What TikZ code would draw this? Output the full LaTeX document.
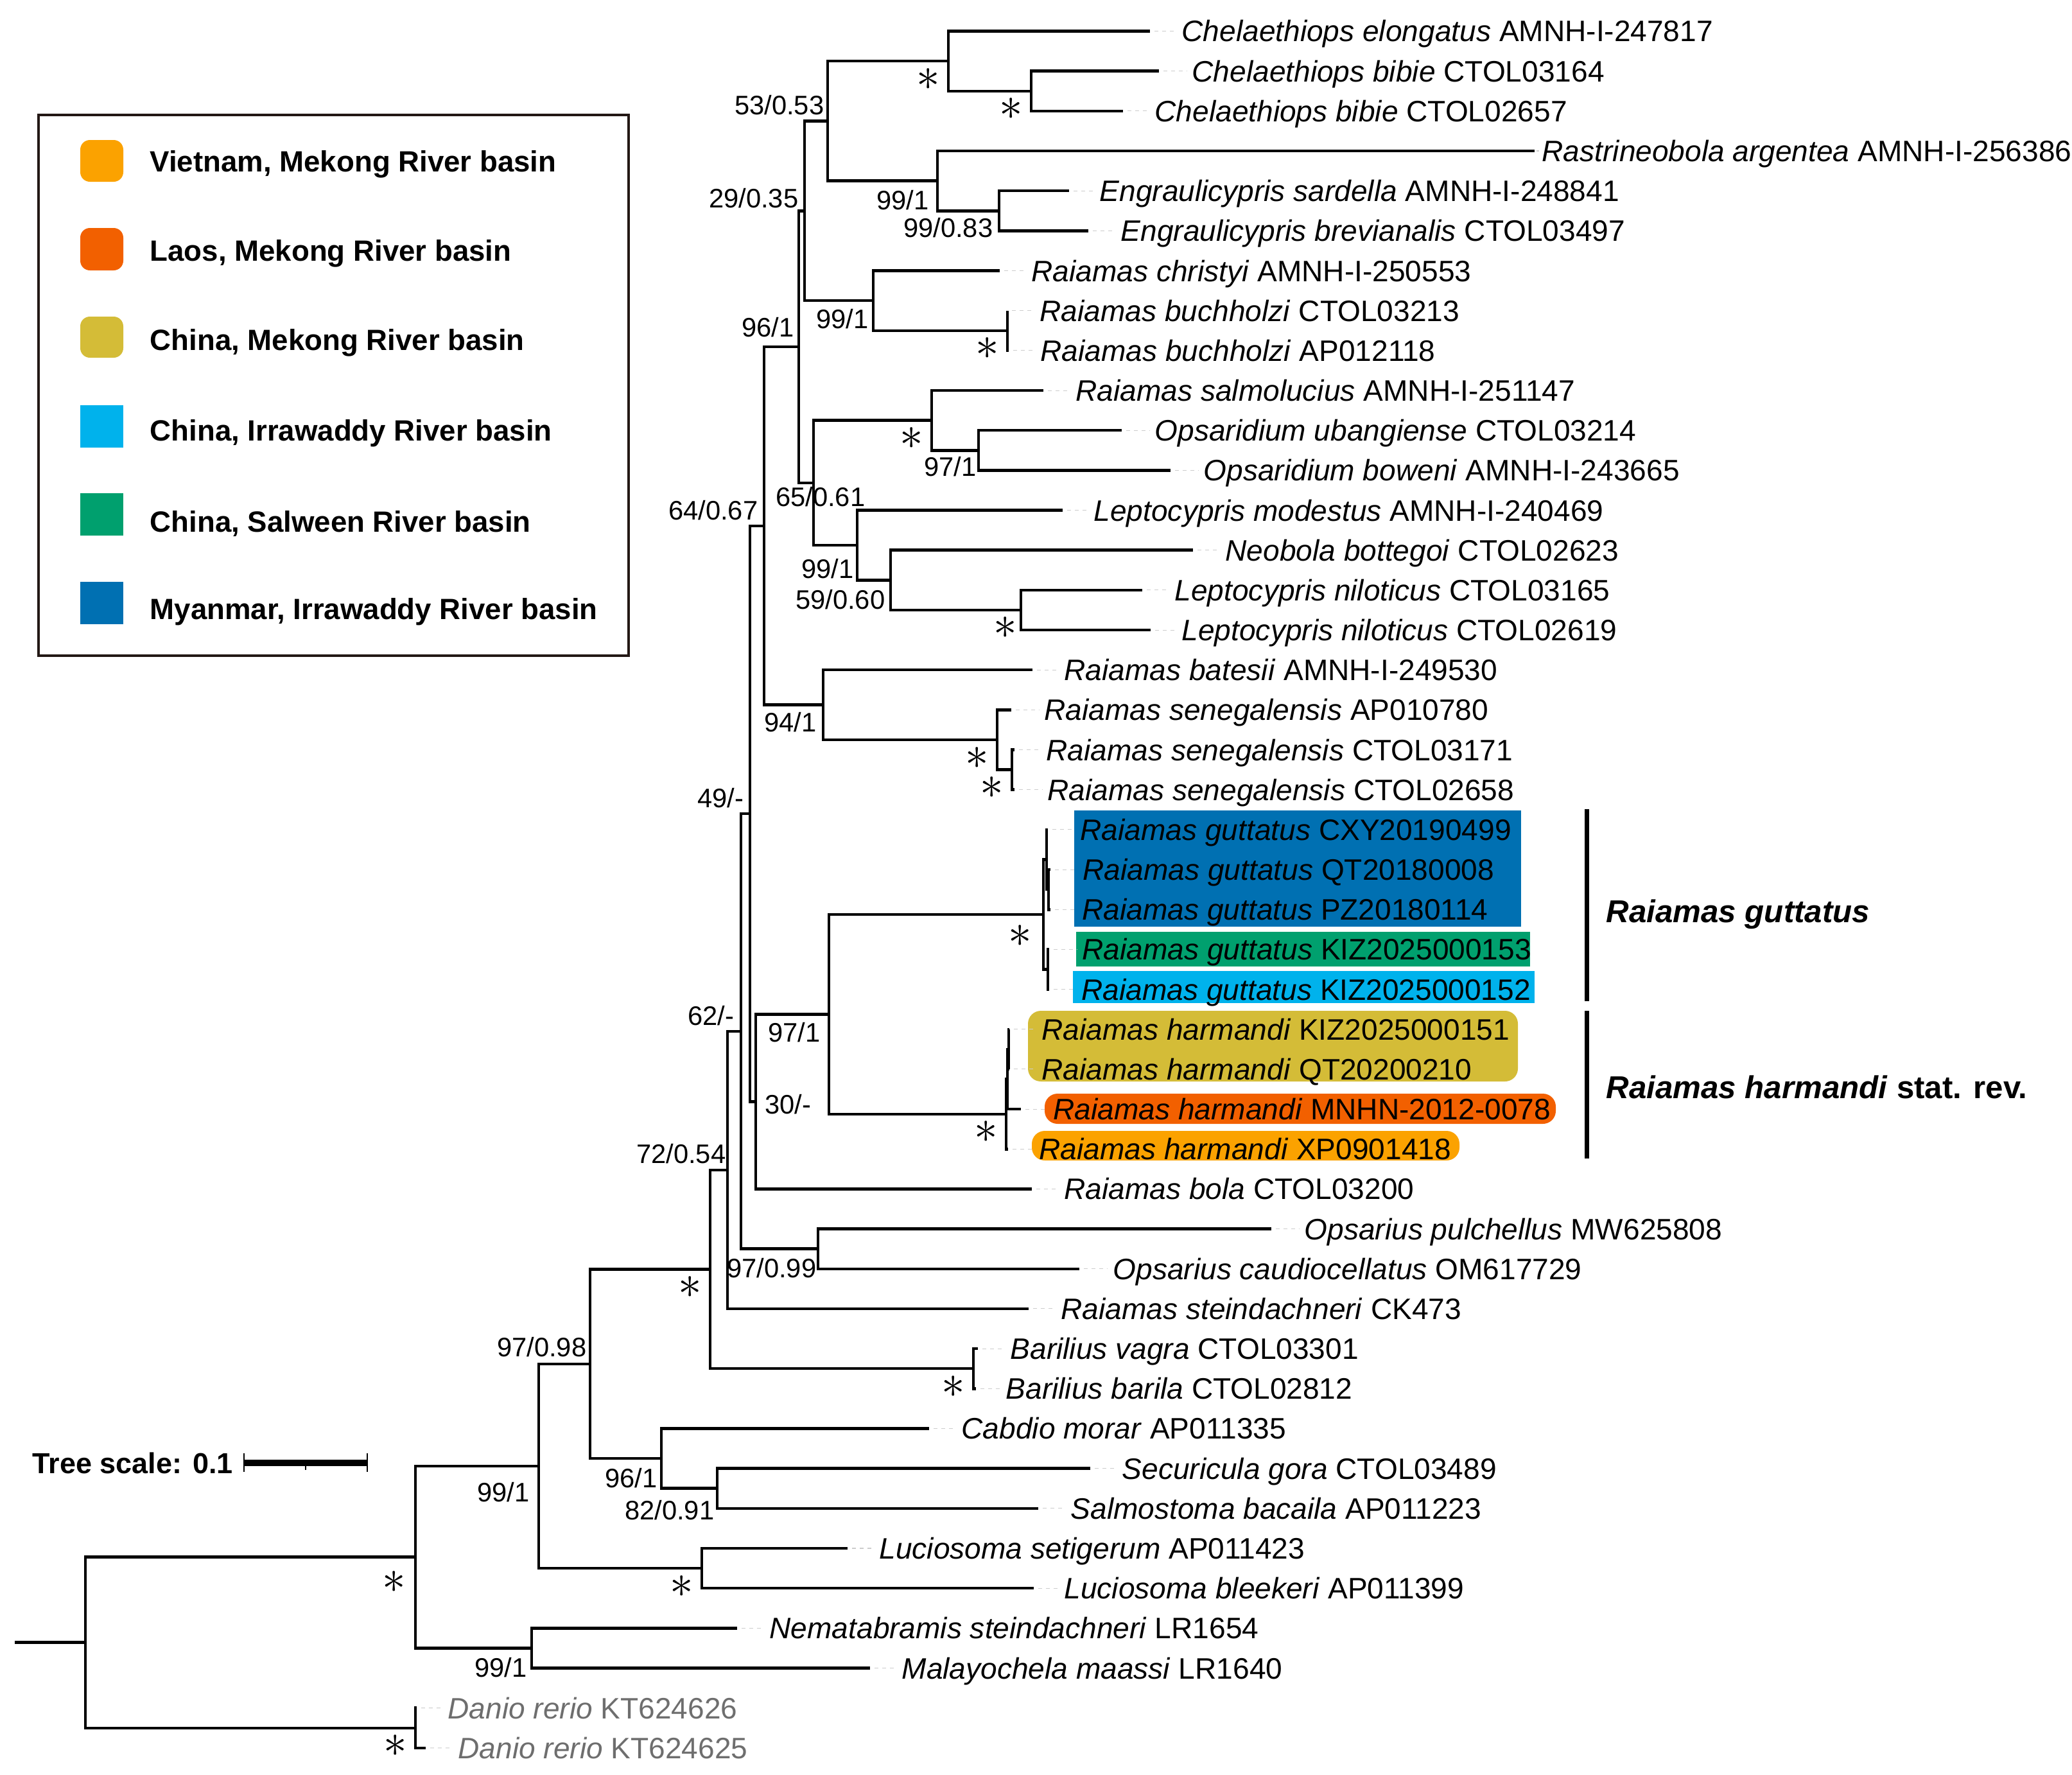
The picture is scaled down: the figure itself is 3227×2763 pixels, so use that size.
\documentclass[tikz,border=0pt]{standalone}
\usepackage{fontspec}
\setmainfont{Liberation Sans}
\usetikzlibrary{calc}
\definecolor{vietnam}{RGB}{251,162,0}
\definecolor{laos}{RGB}{242,96,0}
\definecolor{chmekong}{RGB}{212,188,55}
\definecolor{chirra}{RGB}{0,178,236}
\definecolor{chsalween}{RGB}{0,160,110}
\definecolor{myirra}{RGB}{0,112,178}
\definecolor{legframe}{RGB}{35,24,21}
\definecolor{outgrp}{RGB}{110,110,110}
\newcommand{\taxon}[2]{\textit{#1} #2}
\tikzset{
  branch/.style={every edge/.style={draw, line width=1.28pt, to path={|- (\tikztotarget) \tikztonodes}}},
  leader/.style={draw=gray!40, line width=0.3pt, dash pattern=on 1.7pt off 1.7pt},
  tiplab/.style={anchor=west, inner sep=0pt, text height=9.38pt, text depth=0pt, font=\fontsize{13.1pt}{15pt}\selectfont},
  suplab/.style={anchor=east, inner sep=0pt, text height=8.49pt, text depth=0pt, font=\fontsize{11.86pt}{13pt}\selectfont},
  astk/.style={inner sep=0pt, shift={(-31,28)}, font=\fontsize{20.5pt}{22pt}\selectfont},
  legtxt/.style={anchor=west, inner sep=0pt, text height=9.29pt, text depth=0pt, font=\fontsize{12.97pt}{15pt}\bfseries\selectfont},
  cladelab/.style={anchor=west, inner sep=0pt, text height=10pt, text depth=0pt, font=\fontsize{14pt}{16pt}\bfseries\selectfont},
  scalelab/.style={anchor=west, inner sep=0pt, text height=9.16pt, text depth=0pt, font=\fontsize{12.8pt}{15pt}\bfseries\selectfont}
}
\begin{document}
\begin{tikzpicture}[x=0.01cm, y=-0.01cm]
\useasboundingbox (0,0) rectangle (3227,2763);

\draw[legframe, line width=1pt] (60,179) rectangle (979,1021);
\fill[vietnam, rounded corners=0.15cm] (125,218) rectangle (192,283);
\fill[laos, rounded corners=0.15cm] (125,355) rectangle (192,421);
\fill[chmekong, rounded corners=0.15cm] (125,493) rectangle (192,557);
\fill[chirra] (125,631) rectangle (192,697);
\fill[chsalween] (125,768) rectangle (192,834);
\fill[myirra] (125,906) rectangle (192,972);
\node[legtxt] (leg1) at (233,251) {Vietnam, Mekong River basin};
\node[legtxt] (leg2) at (233,390) {Laos, Mekong River basin};
\node[legtxt] (leg3) at (233,529) {China, Mekong River basin};
\node[legtxt] (leg4) at (233,670) {China, Irrawaddy River basin};
\node[legtxt] (leg5) at (233,812) {China, Salween River basin};
\node[legtxt] (leg6) at (233,948) {Myanmar, Irrawaddy River basin};

\fill[myirra] (1673,1262) rectangle (2369,1443);
\fill[chsalween] (1676,1451) rectangle (2383,1505);
\fill[chirra] (1671,1512) rectangle (2390,1562);
\fill[chmekong, rounded corners=0.2cm] (1601,1574) rectangle (2364,1684);
\fill[laos, rounded corners=0.2cm] (1627,1703) rectangle (2423,1750);
\fill[vietnam, rounded corners=0.2cm] (1607,1761) rectangle (2273,1807);

\foreach \x [count=\i] in {1791,1805,1749,2390,1665,1695,1557,1569,1571,1625,1747,1823,1655,1858,1779,1792,1608,1575,1580,1580,1632,1636,1636,1634,1634,1572,1572,1590,1570,1607,1980,1681,1602,1523,1520,1447,1698,1617,1320,1610,1148,1355,649,663}
  \coordinate (t\i) at (\x,{48.5+62.17*(\i-1)});

\coordinate (nChel2) at (1606,141.76);
\coordinate (nChel) at (1477,95.13);
\coordinate (nEngr2) at (1556,328.27);
\coordinate (nEngr) at (1460,281.64);
\coordinate (n53) at (1289,188.39);
\coordinate (nBuch) at (1569,514.78);
\coordinate (nChr) at (1360,468.15);
\coordinate (n29) at (1253,328.27);
\coordinate (nOpsd) at (1524,701.29);
\coordinate (nSalm) at (1451,654.66);
\coordinate (nNilo) at (1590,949.97);
\coordinate (n59) at (1387,903.34);
\coordinate (n99L) at (1335,848.94);
\coordinate (n65) at (1267,751.80);
\coordinate (n96) at (1244,540.04);
\coordinate (nSen3) at (1576,1198.65);
\coordinate (nSen) at (1553,1152.02);
\coordinate (n94) at (1282,1097.62);
\coordinate (n64) at (1190,818.83);
\coordinate (nGutM2) at (1633,1385.16);
\coordinate (nGutM) at (1630,1338.53);
\coordinate (nGutC) at (1632,1509.50);
\coordinate (nGut) at (1625,1424.02);
\coordinate (nHar3) at (1571,1633.84);
\coordinate (nHar2) at (1569,1680.47);
\coordinate (nHar) at (1567,1734.87);
\coordinate (n97) at (1291,1579.45);
\coordinate (n30) at (1177,1715.44);
\coordinate (n49) at (1168,1267.14);
\coordinate (nOps) at (1274,1944.69);
\coordinate (n62) at (1154,1605.92);
\coordinate (n72) at (1133,1821.93);
\coordinate (nBar) at (1516,2131.20);
\coordinate (nG) at (1106,1976.57);
\coordinate (n82) at (1117,2317.71);
\coordinate (n96b) at (1030,2271.08);
\coordinate (n9798) at (919,2123.83);
\coordinate (nLuc) at (1093,2442.05);
\coordinate (n99a) at (839,2282.94);
\coordinate (nNem) at (828,2566.39);
\coordinate (nJ) at (647,2424.67);
\coordinate (nDan) at (647,2690.73);
\coordinate (root) at (133,2557.70);
\coordinate (base) at (23,2557.70);

\path[branch]
  (base) edge (root)
  (root) edge (nJ) edge (nDan)
  (nDan) edge (t43) edge (t44)
  (nJ) edge (n99a) edge (nNem)
  (nNem) edge (t41) edge (t42)
  (n99a) edge (n9798) edge (nLuc)
  (nLuc) edge (t39) edge (t40)
  (n9798) edge (nG) edge (n96b)
  (n96b) edge (t36) edge (n82)
  (n82) edge (t37) edge (t38)
  (nG) edge (n72) edge (nBar)
  (nBar) edge (t34) edge (t35)
  (n72) edge (n62) edge (t33)
  (n62) edge (n49) edge (nOps)
  (nOps) edge (t31) edge (t32)
  (n49) edge (n64) edge (n30)
  (n30) edge (n97) edge (t30)
  (n97) edge (nGut) edge (nHar)
  (nHar) edge (nHar2) edge (t29)
  (nHar2) edge (nHar3) edge (t28)
  (nHar3) edge (t26) edge (t27)
  (nGut) edge (nGutM) edge (nGutC)
  (nGutM) edge (t21) edge (nGutM2)
  (nGutM2) edge (t22) edge (t23)
  (nGutC) edge (t24) edge (t25)
  (n64) edge (n96) edge (n94)
  (n94) edge (t17) edge (nSen)
  (nSen) edge (t18) edge (nSen3)
  (nSen3) edge (t19) edge (t20)
  (n96) edge (n29) edge (n65)
  (n65) edge (nSalm) edge (n99L)
  (n99L) edge (t13) edge (n59)
  (n59) edge (t14) edge (nNilo)
  (nNilo) edge (t15) edge (t16)
  (nSalm) edge (t10) edge (nOpsd)
  (nOpsd) edge (t11) edge (t12)
  (n29) edge (n53) edge (nChr)
  (nChr) edge (t7) edge (nBuch)
  (nBuch) edge (t8) edge (t9)
  (n53) edge (nChel) edge (nEngr)
  (nChel) edge (t1) edge (nChel2)
  (nChel2) edge (t2) edge (t3)
  (nEngr) edge (t4) edge (nEngr2)
  (nEngr2) edge (t5) edge (t6);

\foreach \i/\lx/\g/\a in {
  1/1840/Chelaethiops elongatus/AMNH-I-247817,
  2/1856/Chelaethiops bibie/CTOL03164,
  3/1798/Chelaethiops bibie/CTOL02657,
  4/2401/Rastrineobola argentea/AMNH-I-256386,
  5/1712/Engraulicypris sardella/AMNH-I-248841,
  6/1745/Engraulicypris brevianalis/CTOL03497,
  7/1606/Raiamas christyi/AMNH-I-250553,
  8/1619/Raiamas buchholzi/CTOL03213,
  9/1620/Raiamas buchholzi/AP012118,
  10/1675/Raiamas salmolucius/AMNH-I-251147,
  11/1798/Opsaridium ubangiense/CTOL03214,
  12/1874/Opsaridium boweni/AMNH-I-243665,
  13/1703/Leptocypris modestus/AMNH-I-240469,
  14/1908/Neobola bottegoi/CTOL02623,
  15/1829/Leptocypris niloticus/CTOL03165,
  16/1840/Leptocypris niloticus/CTOL02619,
  17/1657/Raiamas batesii/AMNH-I-249530,
  18/1626/Raiamas senegalensis/AP010780,
  19/1629/Raiamas senegalensis/CTOL03171,
  20/1631/Raiamas senegalensis/CTOL02658,
  21/1682/Raiamas guttatus/CXY20190499,
  22/1686/Raiamas guttatus/QT20180008,
  23/1685/Raiamas guttatus/PZ20180114,
  24/1685/Raiamas guttatus/KIZ2025000153,
  25/1684/Raiamas guttatus/KIZ2025000152,
  26/1622/Raiamas harmandi/KIZ2025000151,
  27/1622/Raiamas harmandi/QT20200210,
  28/1640/Raiamas harmandi/MNHN-2012-0078,
  29/1618/Raiamas harmandi/XP0901418,
  30/1657/Raiamas bola/CTOL03200,
  31/2031/Opsarius pulchellus/MW625808,
  32/1733/Opsarius caudiocellatus/OM617729,
  33/1652/Raiamas steindachneri/CK473,
  34/1573/Barilius vagra/CTOL03301,
  35/1566/Barilius barila/CTOL02812,
  36/1497/Cabdio morar/AP011335,
  37/1747/Securicula gora/CTOL03489,
  38/1667/Salmostoma bacaila/AP011223,
  39/1369/Luciosoma setigerum/AP011423,
  40/1657/Luciosoma bleekeri/AP011399,
  41/1198/Nematabramis steindachneri/LR1654,
  42/1404/Malayochela maassi/LR1640}
  \node[tiplab] (l\i) at (\lx,{48.5+62.17*(\i-1)}) {\taxon{\g}{\a}};
\node[tiplab, text=outgrp] (l43) at (697,2659.64) {\taxon{Danio rerio}{KT624626}};
\node[tiplab, text=outgrp] (l44) at (713,2721.81) {\taxon{Danio rerio}{KT624625}};

\foreach \i in {1,...,44}
  \draw[leader] ($(t\i)+(7,0)$) -- ($(l\i.west)+(-8,0)$);

\node[suplab] (s53) at (1284,164) {53/0.53};
\node[suplab] (s29) at (1244,309) {29/0.35};
\node[suplab] (sEngr) at (1447,312) {99/1};
\node[suplab] (sEngr2) at (1547,355) {99/0.83};
\node[suplab] (sChr) at (1353,497) {99/1};
\node[suplab] (s96) at (1237,510) {96/1};
\node[suplab] (sOpsd) at (1521,727) {97/1};
\node[suplab] (s65) at (1348,774) {65/0.61};
\node[suplab] (s64) at (1181,795) {64/0.67};
\node[suplab] (s99L) at (1330,886) {99/1};
\node[suplab] (s59) at (1379,934) {59/0.60};
\node[suplab] (s94) at (1272,1125) {94/1};
\node[suplab] (s49) at (1159,1243) {49/-};
\node[suplab] (s62) at (1144,1582) {62/-};
\node[suplab] (s97) at (1278,1608) {97/1};
\node[suplab] (s30) at (1264,1720) {30/-};
\node[suplab] (s72) at (1131,1797) {72/0.54};
\node[suplab] (sOps) at (1272,1975) {97/0.99};
\node[suplab] (s9798) at (914,2098) {97/0.98};
\node[suplab] (s96b) at (1024,2302) {96/1};
\node[suplab] (s82) at (1113,2352) {82/0.91};
\node[suplab] (s99a) at (825,2324) {99/1};
\node[suplab] (sNem) at (821,2597) {99/1};

\foreach \n in {nChel,nChel2,nBuch,nSalm,nSen,nSen3,nHar,nG,nBar,nLuc,nDan}
  \node[astk] (a\n) at (\n) {$\ast$};
\node[astk, shift={(7,0)}] (anNilo) at (nNilo) {$\ast$};
\node[astk, shift={(-5,5)}] (anGut) at (nGut) {$\ast$};
\node[astk, shift={(-2,11)}] (anJ) at (nJ) {$\ast$};

\coordinate (gutTop) at (2471,1260);
\coordinate (gutBot) at (2471,1559);
\coordinate (harTop) at (2471,1574);
\coordinate (harBot) at (2471,1804);
\draw[line width=2pt] (gutTop) -- (gutBot);
\draw[line width=2pt] (harTop) -- (harBot);
\node[cladelab] (cladeGut) at (2501,1419) {\textit{Raiamas guttatus}};
\node[cladelab] (cladeHar) at (2501,1693) {\textit{Raiamas harmandi} stat. rev.};

\node[scalelab] (scaletxt) at (50,2278) {Tree scale: 0.1};
\coordinate (sb0) at (380,2278);
\coordinate (sbm) at (476,2278);
\coordinate (sb1) at (572,2278);
\draw[line width=2.85pt] (sb0) -- (sb1);
\draw[line width=0.7pt] ($(sb0)+(0,-15)$) -- ($(sb0)+(0,14)$);
\draw[line width=0.7pt] ($(sb1)+(0,-15)$) -- ($(sb1)+(0,14)$);
\draw[line width=0.7pt] (sbm) -- ($(sbm)+(0,11)$);
\end{tikzpicture}
\end{document}
